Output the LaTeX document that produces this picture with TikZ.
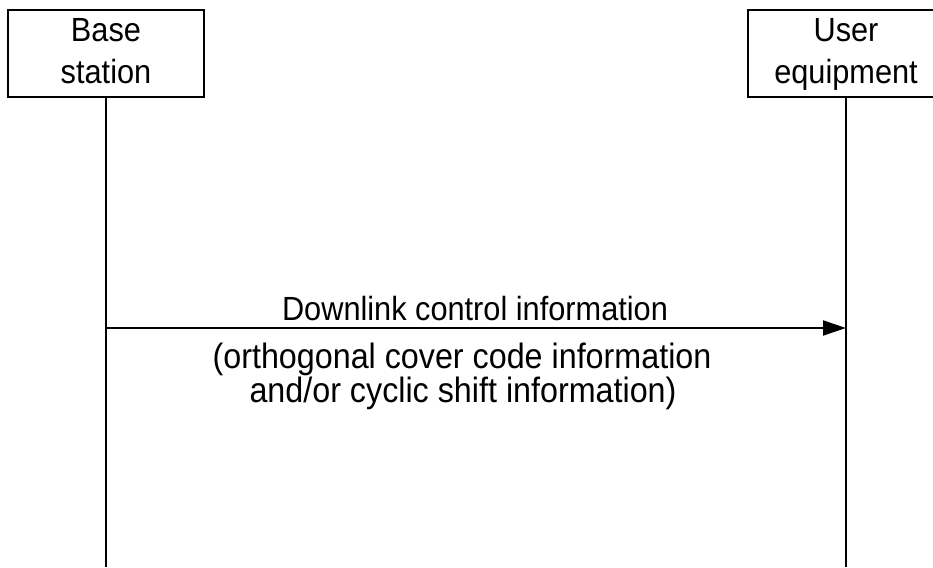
\documentclass[tikz,border=0pt]{standalone}
\usepackage{fontspec}
\setmainfont{Liberation Sans}
\newfontfamily\tallfont[FakeStretch=0.917]{Liberation Sans}
\usetikzlibrary{arrows.meta}
\begin{document}
\begin{tikzpicture}[x=1pt,y=-1pt,
  actor/.style={draw,line width=2pt,minimum width=196pt,minimum height=87pt,inner sep=0pt,align=center,text height=66pt,text depth=5pt,font=\tallfont\fontsize{33.5}{42}\selectfont},
  life/.style={line width=2pt},
  msg/.style={line width=2pt,-{Triangle[length=23pt,width=15pt]}},
  lbl/.style={anchor=base,inner sep=0pt,font=\tallfont\fontsize{33.5}{35}\selectfont},
  lblb/.style={anchor=base,inner sep=0pt,font=\tallfont\fontsize{35.2}{35}\selectfont}]
\useasboundingbox (0,0) rectangle (933,567);
\node[actor] (bs) at (106,53.5) {Base\\station};
\node[actor] (ue) at (846,53.5) {User\\equipment};
\coordinate (bsend) at (106,567);
\coordinate (ueend) at (846,567);
\draw[life] (bs.south) -- (bsend);
\draw[life] (ue.south) -- (ueend);
\coordinate (a1) at (106,328);
\coordinate (a2) at (846,328);
\draw[msg] (a1) -- (a2);
\node[lbl] (t1) at (475,320) {Downlink control information};
\node[lblb] (t2) at (462,368) {(orthogonal cover code information};
\node[lblb] (t3) at (463,402) {and/or cyclic shift information)};
\end{tikzpicture}
\end{document}
